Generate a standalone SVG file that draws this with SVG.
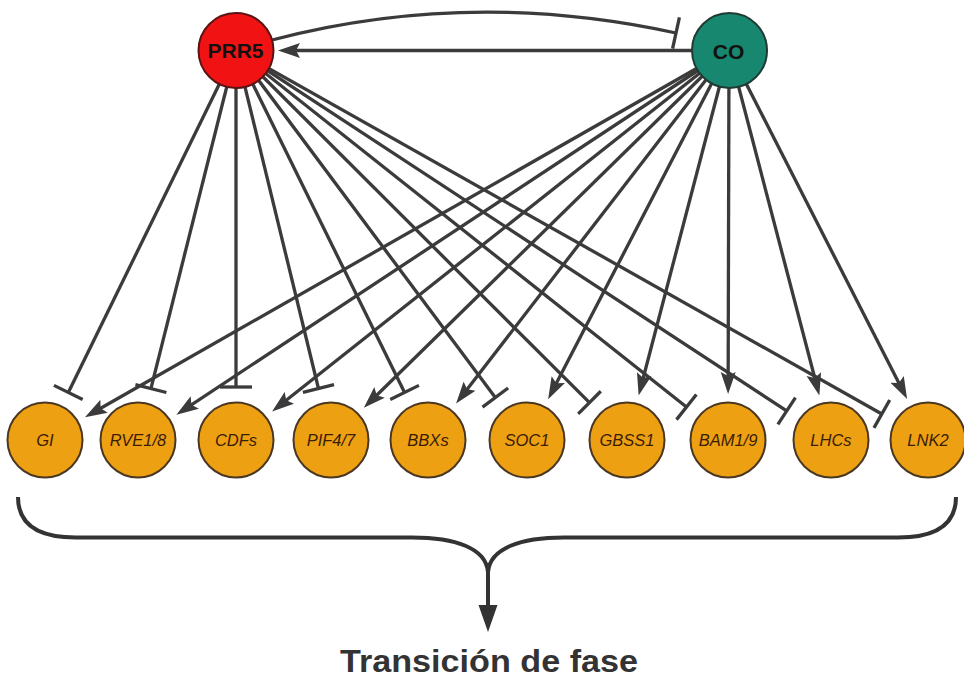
<svg xmlns="http://www.w3.org/2000/svg" width="964" height="680" viewBox="0 0 964 680">
<style>
.edge{fill:none;stroke:#3b3b3b;stroke-width:3.3;stroke-linecap:butt}
.act{marker-end:url(#arrow)}
.inh{marker-end:url(#tbar)}
.gene circle{fill:#eea013;stroke:#4a3722;stroke-width:2}
.gene text{font-family:"Liberation Sans",Arial,sans-serif;font-style:italic;font-size:16.5px;fill:#3a1d06;text-anchor:middle}
.hub text{font-family:"Liberation Sans",Arial,sans-serif;font-weight:bold;font-size:21px;fill:#111;text-anchor:middle}
</style>
<defs>
<marker id="arrow" markerUnits="userSpaceOnUse" viewBox="0 0 22 16" refX="14" refY="8" markerWidth="22" markerHeight="16" orient="auto">
<path d="M0,0.5 L22,8 L0,15.5 L4,8 z" fill="#3b3b3b"/>
</marker>
<marker id="tbar" markerUnits="userSpaceOnUse" viewBox="-3 -17 6 34" refX="0" refY="0" markerWidth="6" markerHeight="34" orient="auto">
<path d="M0,-16 L0,16" stroke="#3b3b3b" stroke-width="3.3" fill="none"/>
</marker>
<marker id="bigarrow" markerUnits="userSpaceOnUse" viewBox="0 0 27 20" refX="2" refY="10" markerWidth="27" markerHeight="20" orient="auto">
<path d="M0,0.5 L27,10 L0,19.5 z" fill="#333"/>
</marker>
</defs>
<rect width="964" height="680" fill="#fff"/>
<g id="connectors">
<path class="edge inh" d="M272,40 Q470,-12 676,33"/>
<path class="edge act" d="M729,50.5 L286,50.5"/>
<path class="edge inh" d="M236,50 L68.31,392.40"/>
<path class="edge inh" d="M236,50 L150.92,388.60"/>
<path class="edge inh" d="M236,50 L236,387"/>
<path class="edge inh" d="M236,50 L318.46,388.51"/>
<path class="edge inh" d="M236,50 L404.59,392.45"/>
<path class="edge inh" d="M236,50 L495.31,397.52"/>
<path class="edge inh" d="M236,50 L589.48,402.57"/>
<path class="edge inh" d="M236,50 L686.47,407.08"/>
<path class="edge inh" d="M236,50 L786.67,410.95"/>
<path class="edge inh" d="M236,50 L881.83,413.98"/>
<path class="edge act" d="M729,50 L91.91,413.25"/>
<path class="edge act" d="M729,50 L183.07,410.26"/>
<path class="edge act" d="M729,50 L278.35,406.50"/>
<path class="edge act" d="M729,50 L369.57,402.21"/>
<path class="edge act" d="M729,50 L460.99,397.26"/>
<path class="edge act" d="M729,50 L551.83,392.05"/>
<path class="edge act" d="M729,50 L640.67,387.76"/>
<path class="edge act" d="M729,50 L728.14,386"/>
<path class="edge act" d="M729,50 L817.33,387.76"/>
<path class="edge act" d="M729,50 L903.46,391.90"/>
</g>
<g id="brace">
<path d="M18,497 Q18,537.5 76,537.5 L412,537.5 C455,537.5 486,548 488,572 C490,548 521,537.5 564,537.5 L898,537.5 Q956,537.5 956,497" fill="none" stroke="#333" stroke-width="4"/>
<path d="M488,570 L488,607" fill="none" stroke="#333" stroke-width="4" marker-end="url(#bigarrow)"/>
</g>
<g id="PRR5" class="hub">
<circle cx="236" cy="50.5" r="37.5" fill="#f11313" stroke="#5a1414" stroke-width="2"/>
<text x="235.5" y="58">PRR5</text>
</g>
<g id="CO" class="hub">
<circle cx="729.5" cy="50.5" r="37.5" fill="#17876f" stroke="#1f3b34" stroke-width="2"/>
<text x="728.5" y="58.5">CO</text>
</g>
<g id="GI" class="gene"><circle cx="45" cy="440" r="37.5"/><text x="45" y="446">GI</text></g>
<g id="RVE1_8" class="gene"><circle cx="138" cy="440" r="37.5"/><text x="138" y="446">RVE1/8</text></g>
<g id="CDFs" class="gene"><circle cx="236" cy="440" r="37.5"/><text x="236" y="446">CDFs</text></g>
<g id="PIF4_7" class="gene"><circle cx="331" cy="440" r="37.5"/><text x="331" y="446">PIF4/7</text></g>
<g id="BBXs" class="gene"><circle cx="428" cy="440" r="37.5"/><text x="428" y="446">BBXs</text></g>
<g id="SOC1" class="gene"><circle cx="527" cy="440" r="37.5"/><text x="527" y="446">SOC1</text></g>
<g id="GBSS1" class="gene"><circle cx="627" cy="440" r="37.5"/><text x="627" y="446">GBSS1</text></g>
<g id="BAM1_9" class="gene"><circle cx="728" cy="440" r="37.5"/><text x="728" y="446">BAM1/9</text></g>
<g id="LHCs" class="gene"><circle cx="831" cy="440" r="37.5"/><text x="831" y="446">LHCs</text></g>
<g id="LNK2" class="gene"><circle cx="928" cy="440" r="37.5"/><text x="928" y="446">LNK2</text></g>
<g id="title">
<text x="489" y="672" font-family="'Liberation Sans',Arial,sans-serif" font-weight="bold" font-size="32" fill="#333" text-anchor="middle" textLength="298" lengthAdjust="spacingAndGlyphs">Transición de fase</text>
</g>
</svg>
